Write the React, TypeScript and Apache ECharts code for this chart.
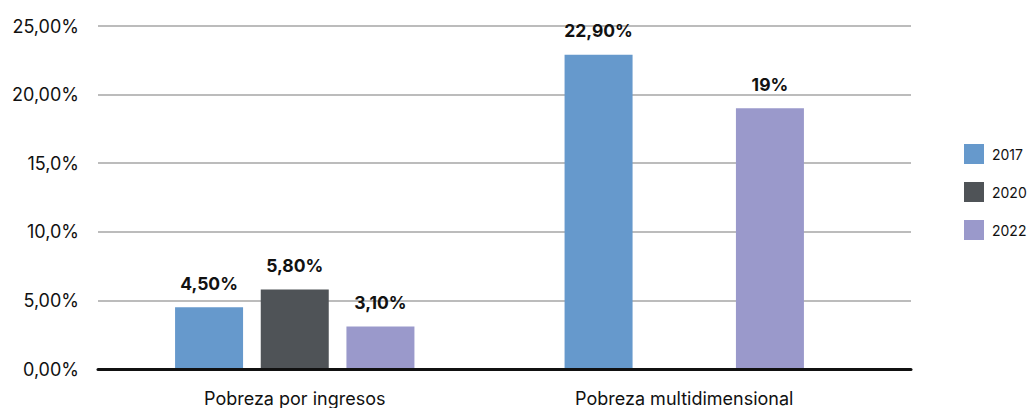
import React, { useEffect, useRef } from "react";
import * as echarts from "echarts";

const categories = ["Pobreza por ingresos", "Pobreza multidimensional"];
const seriesNames = ["2017", "2020", "2022"];
const values2017 = [4.5, 22.9];
const values2020: (number | null)[] = [5.8, null];
const values2022 = [3.1, 19];
const labels2017 = ["4,50%", "22,90%"];
const labels2020 = ["5,80%", ""];
const labels2022 = ["3,10%", "19%"];
const tickValues = [0, 5, 10, 15, 20, 25];
const tickLabels = ["0,00%", "5,00%", "10,0%", "15,0%", "20,00%", "25,00%"];

const colors = ["#6699CC", "#4F5357", "#9A99CB"];
const FONT = "Inter";

export default function App() {
  const ref = useRef<HTMLDivElement>(null);
  useEffect(() => {
    if (!ref.current) return;
    const chart = echarts.init(ref.current, undefined, { renderer: "svg" });
    const mkLabel = (labels: string[]) => ({
      show: true,
      position: "top",
      distance: 15,
      fontFamily: FONT,
      fontWeight: "bold",
      fontSize: 17.5,
      color: "#111",
      formatter: (p: any) => labels[p.dataIndex] ?? "",
    });
    const series = [
      { name: seriesNames[0], data: values2017, labels: labels2017 },
      { name: seriesNames[1], data: values2020, labels: labels2020 },
      { name: seriesNames[2], data: values2022, labels: labels2022 },
    ].map((s, i) => ({
      type: "bar",
      name: s.name,
      data: s.data,
      xAxisIndex: 0,
      yAxisIndex: 0,
      barWidth: 68,
      barGap: "26%",
      itemStyle: { color: colors[i] },
      label: mkLabel(s.labels),
    }));
    chart.setOption({
      animation: false,
      color: colors,
      grid: [
        { left: 100, width: 779, top: 26, bottom: 39 },
        { left: 98, width: 813, top: 26, bottom: 39 },
      ],
      legend: {
        orient: "vertical",
        left: 959,
        top: 139,
        itemWidth: 20,
        itemHeight: 20,
        itemGap: 18,
        icon: "rect",
        textStyle: { fontFamily: FONT, fontSize: 14, color: "#111", padding: [0, 0, 0, 3] },
        data: seriesNames,
      },
      xAxis: [
        {
          type: "category",
          gridIndex: 0,
          data: categories,
          axisLine: { show: false },
          axisTick: { show: false },
          axisLabel: { fontFamily: FONT, fontSize: 18, color: "#111", margin: 20 },
        },
        {
          type: "category",
          gridIndex: 1,
          data: categories,
          axisLine: { show: true, lineStyle: { color: "#111", width: 3 } },
          axisTick: { show: false },
          axisLabel: { show: false },
          z: 10,
        },
      ],
      yAxis: [
        { type: "value", gridIndex: 0, min: 0, max: 25, interval: 5, show: false },
        {
          type: "value",
          gridIndex: 1,
          min: 0,
          max: 25,
          interval: 5,
          axisLine: { show: false },
          axisTick: { show: false },
          splitLine: { lineStyle: { color: "#A6A6A6", width: 1.5 } },
          axisLabel: {
            fontFamily: FONT,
            fontSize: 18,
            color: "#111",
            margin: 19,
            formatter: (v: number) => {
              const i = tickValues.indexOf(v);
              return i >= 0 ? tickLabels[i] : "";
            },
          },
        },
      ],
      series,
    });
    return () => chart.dispose();
  }, []);
  return <div ref={ref} style={{ width: 1030, height: 408, position: "absolute", left: 0, top: 0 }} />;
}
